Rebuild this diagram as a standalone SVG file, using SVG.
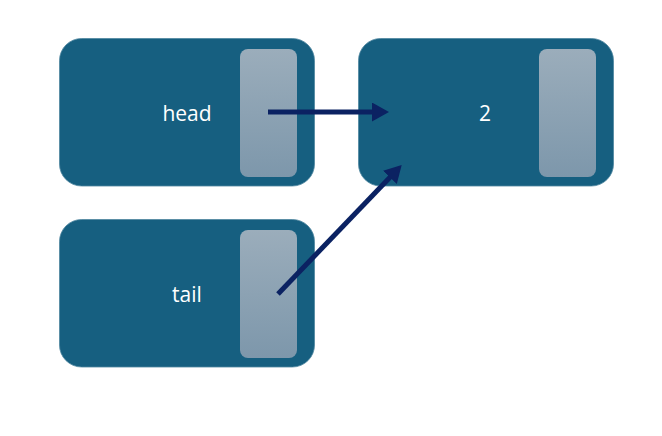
<svg xmlns="http://www.w3.org/2000/svg" width="662" height="436" viewBox="0 0 662 436">
<defs>
<linearGradient id="g" x1="0" y1="0" x2="0" y2="1">
<stop offset="0" stop-color="#9badbb"/>
<stop offset="1" stop-color="#7d97ab"/>
</linearGradient>
<marker id="ah" markerWidth="17" markerHeight="19" refX="5" refY="9.5" orient="auto" markerUnits="userSpaceOnUse" viewBox="0 0 17 19">
<path d="M0,0 L17,9.5 L0,19 Z" fill="#0b2262"/>
</marker>
<style>
.box{fill:#165f80;stroke:#4f87a0;stroke-width:0.8}
.cell{fill:url(#g)}
.lbl{font-family:"Open Sans","Noto Sans",sans-serif;font-size:21px;fill:#ffffff;text-anchor:middle}
.conn{stroke:#0b2262;stroke-width:5;fill:none;marker-end:url(#ah)}
</style>
</defs>
<rect width="662" height="436" fill="#ffffff"/>
<g id="node-head">
<rect class="box" x="59.5" y="38.5" width="255" height="147.5" rx="22"/>
<rect class="cell" x="240" y="49" width="57" height="128" rx="8"/>
<text class="lbl" x="187" y="120.5">head</text>
</g>
<g id="node-2">
<rect class="box" x="358.5" y="38.5" width="255" height="147.5" rx="22"/>
<rect class="cell" x="539" y="49" width="57" height="128" rx="8"/>
<text class="lbl" x="485" y="120.5">2</text>
</g>
<g id="node-tail">
<rect class="box" x="59.5" y="219.5" width="255" height="147.5" rx="22"/>
<rect class="cell" x="240" y="230" width="57" height="128" rx="8"/>
<text class="lbl" x="187" y="301.5">tail</text>
</g>
<g id="connectors">
<line class="conn" x1="268" y1="112" x2="377" y2="112"/>
<line class="conn" x1="278" y1="294" x2="393.4" y2="173.7"/>
</g>
</svg>
